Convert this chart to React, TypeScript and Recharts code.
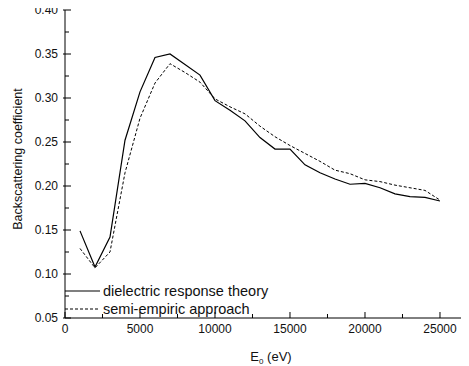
import React from 'react';
import { LineChart, Line, XAxis, YAxis, Legend } from 'recharts';

const energies = [1000, 2000, 3000, 4000, 5000, 6000, 7000, 8000, 9000, 10000, 11000, 12000, 13000, 14000, 15000, 16000, 17000, 18000, 19000, 20000, 21000, 22000, 23000, 24000, 25000];
const dielectric = [0.149, 0.108, 0.142, 0.252, 0.307, 0.346, 0.350, 0.338, 0.326, 0.297, 0.286, 0.274, 0.255, 0.242, 0.242, 0.224, 0.215, 0.208, 0.202, 0.203, 0.198, 0.191, 0.188, 0.187, 0.183];
const semiEmpiric = [0.129, 0.107, 0.125, 0.215, 0.277, 0.317, 0.339, 0.329, 0.318, 0.299, 0.290, 0.282, 0.268, 0.256, 0.246, 0.237, 0.228, 0.218, 0.214, 0.207, 0.205, 0.201, 0.198, 0.195, 0.184];

const xTicks = [0, 2500, 5000, 7500, 10000, 12500, 15000, 17500, 20000, 22500, 25000];
const xMajor = [0, 5000, 10000, 15000, 20000, 25000];
const yTicks = [0.05, 0.075, 0.1, 0.125, 0.15, 0.175, 0.2, 0.225, 0.25, 0.275, 0.3, 0.325, 0.35, 0.375, 0.4];
const yMajor = [0.05, 0.1, 0.15, 0.2, 0.25, 0.3, 0.35, 0.4];

const seriesNames = ['dielectric response theory', 'semi-empiric approach'];

const rows = energies.map((e, i) => ({ e, d: dielectric[i], s: semiEmpiric[i] }));

const FONT = '"Liberation Sans", Arial, sans-serif';
const isMajor = (list: number[], v: number) => list.some((m) => Math.abs(m - v) < 1e-9);

const BottomTick = (props: any) => {
  const { x, y, payload } = props;
  const major = isMajor(xMajor, payload.value);
  return (
    <g>
      <line x1={x} x2={x} y1={y} y2={y - (major ? 6 : 4)} stroke="#000" strokeWidth={1} />
      {major && (
        <text x={x} y={y + 15} textAnchor="middle" fontSize={12} fontFamily={FONT} fill="#111">
          {String(payload.value)}
        </text>
      )}
    </g>
  );
};

const TopTick = (props: any) => {
  const { x, y, payload } = props;
  const major = isMajor(xMajor, payload.value);
  return <line x1={x} x2={x} y1={y} y2={y + (major ? 6 : 4)} stroke="#000" strokeWidth={1} />;
};

const LeftTick = (props: any) => {
  const { x, y, payload } = props;
  const major = isMajor(yMajor, payload.value);
  return (
    <g>
      <line x1={major ? x - 2 : x} x2={x + (major ? 6 : 4)} y1={y} y2={y} stroke="#000" strokeWidth={1} />
      {major && (
        <text x={x - 7} y={y + 4} textAnchor="end" fontSize={12} fontFamily={FONT} fill="#111">
          {payload.value.toFixed(2)}
        </text>
      )}
    </g>
  );
};

const LegendContent = (props: any) => {
  const { payload } = props;
  return (
    <div style={{ fontFamily: FONT, fontSize: 14.5, color: '#111' }}>
      {(payload || []).map((p: any, i: number) => (
        <div key={i} style={{ display: 'flex', alignItems: 'center', height: 18, whiteSpace: 'nowrap' }}>
          <svg width={38} height={18} style={{ display: 'block' }}>
            <line x1={0} x2={35} y1={9} y2={9} stroke="#000" strokeWidth={1.1} strokeDasharray={p.payload && p.payload.strokeDasharray ? p.payload.strokeDasharray : undefined} />
          </svg>
          <span>{p.value}</span>
        </div>
      ))}
    </div>
  );
};

export default function App() {
  return (
    <div style={{ width: 461, height: 366, position: 'relative', marginTop: -8 }}>
      <LineChart width={461} height={366} data={rows} margin={{ top: 10, right: 1, bottom: 0, left: 0 }}>
        <XAxis
          dataKey="e"
          type="number"
          domain={[0, 26867]}
          ticks={xTicks}
          interval={0}
          height={48}
          tickSize={0}
          tickMargin={0}
          tickLine={false}
          tick={<BottomTick />}
          axisLine={{ stroke: '#000', strokeWidth: 1 }}
          allowDataOverflow
          label={{
            content: () => (
              <text x={263} y={361} textAnchor="middle" fontSize={13} fontFamily={FONT} fill="#111">
                <tspan>E</tspan>
                <tspan fontSize={8} dy={3}>0</tspan>
                <tspan dy={-3}> (eV)</tspan>
              </text>
            ),
          }}
        />
        <XAxis
          xAxisId="top"
          orientation="top"
          dataKey="e"
          type="number"
          domain={[0, 26867]}
          ticks={xTicks}
          interval={0}
          height={0}
          tickSize={0}
          tickMargin={0}
          tickLine={false}
          tick={<TopTick />}
          axisLine={{ stroke: '#000', strokeWidth: 1 }}
          allowDataOverflow
        />
        <YAxis
          type="number"
          domain={[0.05, 0.4]}
          ticks={yTicks}
          interval={0}
          width={57}
          tickSize={0}
          tickMargin={0}
          tickLine={false}
          tick={<LeftTick />}
          axisLine={{ stroke: '#000', strokeWidth: 1 }}
          allowDataOverflow
          label={{
            content: () => (
              <text x={14} y={159} transform="rotate(-90 14 159)" textAnchor="middle" fontSize={12.5} fontFamily={FONT} fill="#111">
                Backscattering coefficient
              </text>
            ),
          }}
        />
        <Legend
          layout="vertical"
          align="center"
          verticalAlign="middle"
          content={<LegendContent />}
          wrapperStyle={{ position: 'absolute', left: 57, top: 282, width: 300, height: 40 }}
        />
        <Line
          name={seriesNames[0]}
          dataKey="d"
          type="linear"
          stroke="#000"
          strokeWidth={1.2}
          dot={false}
          activeDot={false}
          isAnimationActive={false}
        />
        <Line
          name={seriesNames[1]}
          dataKey="s"
          type="linear"
          stroke="#000"
          strokeWidth={1}
          strokeDasharray="3 2"
          dot={false}
          activeDot={false}
          isAnimationActive={false}
        />
      </LineChart>
    </div>
  );
}
